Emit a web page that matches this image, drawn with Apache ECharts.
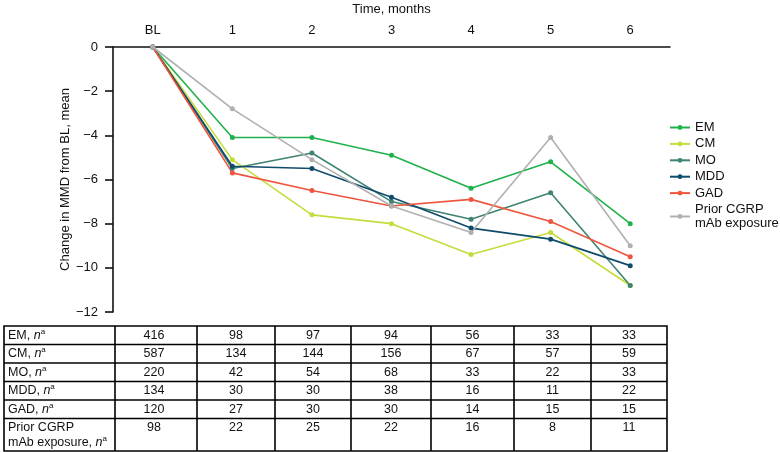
<!DOCTYPE html>
<html>
<head>
<meta charset="utf-8">
<script src="https://cdn.jsdelivr.net/npm/echarts@6/dist/echarts.min.js"></script>
<style>html,body{margin:0;padding:0;background:#fff}#c{width:780px;height:452px}</style>
</head>
<body>
<div id="c"></div>
<script>
var categories = ['BL', '1', '2', '3', '4', '5', '6'];
var seriesNames = ['EM', 'CM', 'MO', 'MDD', 'GAD', 'Prior CGRP\nmAb exposure'];
var emValues = [0, -4.1, -4.1, -4.9, -6.4, -5.2, -8.0];
var cmValues = [0, -5.1, -7.6, -8.0, -9.4, -8.4, -10.8];
var moValues = [0, -5.5, -4.8, -7.0, -7.8, -6.6, -10.8];
var mddValues = [0, -5.4, -5.5, -6.8, -8.2, -8.7, -9.9];
var gadValues = [0, -5.7, -6.5, -7.2, -6.9, -7.9, -9.5];
var priorValues = [0, -2.8, -5.1, -7.2, -8.4, -4.1, -9.0];
var colors = ['#1fb14c', '#c6dc3c', '#3f8373', '#0f4c6b', '#ef553d', '#b0b0b0'];

var rowLabels = ['EM, ', 'CM, ', 'MO, ', 'MDD, ', 'GAD, ', 'Prior CGRP\nmAb exposure, '];
var nEM = [416, 98, 97, 94, 56, 33, 33];
var nCM = [587, 134, 144, 156, 67, 57, 59];
var nMO = [220, 42, 54, 68, 33, 22, 33];
var nMDD = [134, 30, 30, 38, 16, 11, 22];
var nGAD = [120, 27, 30, 30, 14, 15, 15];
var nPrior = [98, 22, 25, 22, 16, 8, 11];

var allValues = [emValues, cmValues, moValues, mddValues, gadValues, priorValues];
var nRows = [nEM, nCM, nMO, nMDD, nGAD, nPrior];

var FONT = 'Liberation Sans, Arial, sans-serif';
var chart = echarts.init(document.getElementById('c'));

var series = seriesNames.map(function (name, i) {
  return {
    name: name,
    type: 'line',
    data: allValues[i],
    symbol: 'circle',
    symbolSize: 5,
    lineStyle: { width: 1.6, color: colors[i] },
    itemStyle: { color: colors[i] },
    emphasis: { disabled: true },
    animation: false
  };
});

// table geometry
var colX = [4, 115, 197, 275, 351, 431, 514, 591, 667];
var rowY = [326, 344.5, 363, 381.5, 400, 418.5, 451];
var graphics = [];
graphics.push({ type: 'rect', shape: { x: colX[0], y: rowY[0], width: colX[8] - colX[0], height: rowY[6] - rowY[0] },
  style: { fill: 'none', stroke: '#000', lineWidth: 1.6 }, silent: true });
for (var c = 1; c < colX.length - 1; c++) {
  graphics.push({ type: 'line', shape: { x1: colX[c], y1: rowY[0], x2: colX[c], y2: rowY[6] },
    style: { stroke: '#000', lineWidth: 1.6 }, silent: true });
}
for (var r = 1; r < rowY.length - 1; r++) {
  graphics.push({ type: 'line', shape: { x1: colX[0], y1: rowY[r], x2: colX[8], y2: rowY[r] },
    style: { stroke: '#000', lineWidth: 1.6 }, silent: true });
}
var rich = {
  t: { fontFamily: FONT, fontSize: 12.5, fill: '#111', lineHeight: 15 },
  i: { fontFamily: FONT, fontSize: 12.5, fontStyle: 'italic', fill: '#111', lineHeight: 15 },
  s: { fontFamily: FONT, fontSize: 8, fill: '#111', verticalAlign: 'top', padding: [0, 0, 4, 0], lineHeight: 15 }
};
for (var r = 0; r < nRows.length; r++) {
  var lbl = rowLabels[r];
  var parts = lbl.split('\n');
  var txt;
  if (parts.length === 2) {
    txt = '{t|' + parts[0] + '}\n{t|' + parts[1] + '}{i|n}{s|a}';
  } else {
    txt = '{t|' + parts[0] + '}{i|n}{s|a}';
  }
  var isLast = r === nRows.length - 1;
  var cy = isLast ? rowY[r] + 9.5 : (rowY[r] + rowY[r + 1]) / 2;
  graphics.push({ type: 'text', x: colX[0] + 4, y: isLast ? rowY[r] + 1.5 : cy,
    style: { text: txt, rich: rich, fontFamily: FONT, fontSize: 12.5, fill: '#111', align: 'left', verticalAlign: isLast ? 'top' : 'middle' }, silent: true });
  for (var c = 0; c < nRows[r].length; c++) {
    graphics.push({ type: 'text', x: (colX[c + 1] + colX[c + 2]) / 2 - (c === 0 ? 2 : 0), y: cy,
      style: { text: String(nRows[r][c]), fontFamily: FONT, fontSize: 12.5, fill: '#111', align: 'center', verticalAlign: 'middle' }, silent: true });
  }
}

chart.setOption({
  animation: false,
  backgroundColor: '#fff',
  textStyle: { fontFamily: FONT },
  grid: { left: 113, right: 110, top: 47, bottom: 140, containLabel: false, outerBoundsMode: 'none' },
  legend: {
    orient: 'vertical',
    left: 669,
    top: 120.5,
    padding: 0,
    itemWidth: 20,
    itemHeight: 6,
    itemGap: 2.4,
    data: seriesNames,
    textStyle: { fontFamily: FONT, fontSize: 13, color: '#111', lineHeight: 14 },
    selectedMode: false
  },
  xAxis: {
    type: 'category',
    data: categories,
    position: 'top',
    boundaryGap: true,
    name: 'Time, months',
    nameLocation: 'middle',
    nameGap: 31,
    nameMoveOverlap: false,
    nameTextStyle: { fontFamily: FONT, fontSize: 13, color: '#111' },
    axisLine: { onZero: false, lineStyle: { color: '#111', width: 1.6 } },
    axisTick: { alignWithLabel: true, length: 8, lineStyle: { color: '#111', width: 1.6 } },
    axisLabel: { fontFamily: FONT, fontSize: 13, color: '#111', margin: 10 },
    splitLine: { show: false }
  },
  yAxis: {
    type: 'value',
    min: -12,
    max: 0,
    interval: 2,
    name: 'Change in MMD from BL, mean',
    nameLocation: 'middle',
    nameGap: 41,
    nameMoveOverlap: false,
    nameTextStyle: { fontFamily: FONT, fontSize: 13, color: '#111' },
    axisLine: { show: true, lineStyle: { color: '#111', width: 1.6 } },
    axisTick: { show: true, length: 8, lineStyle: { color: '#111', width: 1.6 } },
    axisLabel: { fontFamily: FONT, fontSize: 13, color: '#111', margin: 15,
      formatter: function (v) { return String(v).replace('-', '\u2212'); } },
    splitLine: { show: false }
  },
  series: series,
  graphic: graphics
});
</script>
</body>
</html>
